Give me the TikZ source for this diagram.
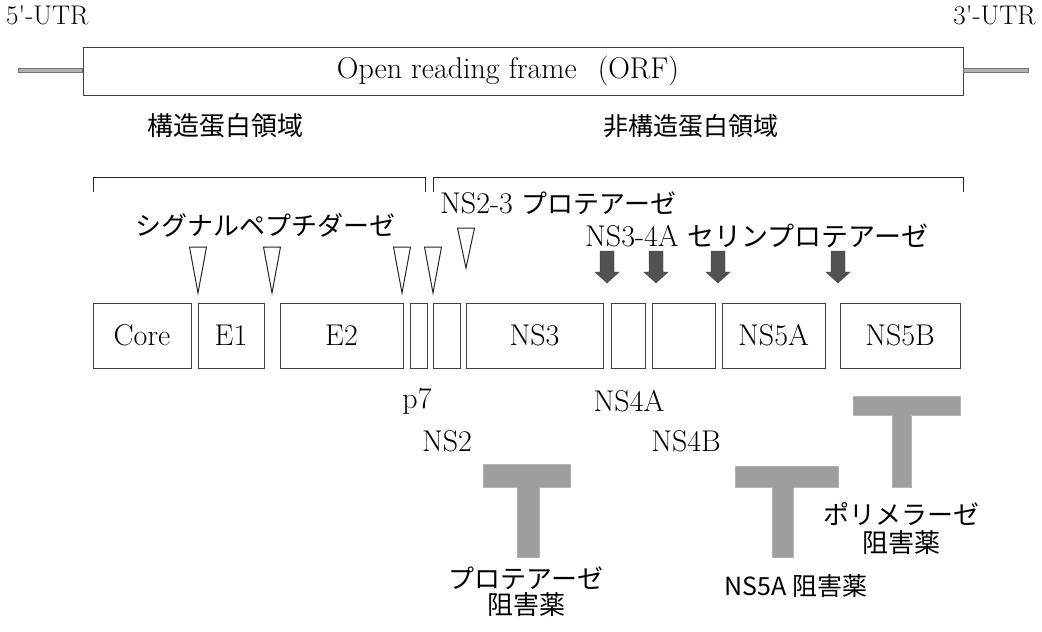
\documentclass[tikz,border=0pt]{standalone}
\usepackage{fontspec}
\newfontfamily\jp{Noto Sans CJK JP}
\newcommand{\fs}[1]{\fontsize{#1}{#1}\selectfont}
\begin{document}
\begin{tikzpicture}[x=1pt,y=-1pt,
  seg/.style={draw=black!75,line width=0.9pt,minimum height=65pt,inner sep=0pt,font=\fs{30}},
  lbl/.style={inner sep=0pt,font=\fs{30}},
  jlbl/.style={inner sep=0pt,font=\jp\fs{25}},
  brk/.style={draw=black!85,line width=1pt},
  tri/.style={draw=black!85,line width=1pt,fill=white,line join=miter},
  cut/.style={fill=black!68,draw=black!75,line width=0.4pt},
  tee/.style={fill=black!38,draw=black!30,line width=0.4pt},
  utr/.style={fill=black!30,draw=black!55,line width=0.5pt}]
\useasboundingbox (0,0) rectangle (1042,632);
% UTR and ORF
\node[lbl,font=\fs{27},anchor=west] (u5) at (6,15) {5\textquotesingle-UTR};
\node[lbl,font=\fs{27},anchor=east] (u3) at (1036,15) {3\textquotesingle-UTR};
\node[draw=black!75,line width=0.9pt,minimum width=880pt,minimum height=48pt,inner sep=0pt] (orf) at (523,71) {};
\node[lbl,font=\fs{30}] (orft) at (508,71) {Open reading frame\hspace{0.7em}(ORF)};
\fill[utr] (18,68.5) rectangle (orf.west |- 0,72.5);
\fill[utr] (orf.east |- 0,68.5) rectangle (1028,72.5);
% region labels
\node[jlbl,font=\jp\fs{26}] (sreg) at (225,126) {構造蛋白領域};
\node[jlbl] (nreg) at (691,126) {非構造蛋白領域};
\draw[brk] (93,192) -- (93,177) -- (425,177) -- (425,192);
\draw[brk] (433,192) -- (433,177) -- (963,177) -- (963,192);
% enzyme labels
\node[jlbl,font=\jp\fs{26}] (sig) at (265,225) {シグナルペプチダーゼ};
\node[lbl,anchor=west] (ns23) at (440,203) {NS2-3 {\jp\fs{26}プロテアーゼ}};
\node[lbl,anchor=west] (ns34) at (585,236) {NS3-4A {\jp\fs{27}セリンプロテアーゼ}};
% segments
\node[seg,minimum width=98pt] (core) at (142,335.5) {Core};
\node[seg,minimum width=66pt] (e1) at (231,335.5) {E1};
\node[seg,minimum width=123pt] (e2) at (341.5,335.5) {E2};
\node[seg,minimum width=17pt] (p7) at (418.5,335.5) {};
\node[seg,minimum width=27pt] (ns2) at (446.5,335.5) {};
\node[seg,minimum width=137pt] (ns3) at (534.5,335.5) {NS3};
\node[seg,minimum width=34pt] (ns4a) at (628,335.5) {};
\node[seg,minimum width=63pt] (ns4b) at (683.5,335.5) {};
\node[seg,minimum width=103pt] (ns5a) at (773.5,335.5) {NS5A};
\node[seg,minimum width=120pt] (ns5b) at (900,335.5) {NS5B};
% signal peptidase cleavage (open triangles)
\foreach \x in {198,272,402,433}
  \draw[tri] (\x-8.5,247) -- (\x+8.5,247) -- (\x,293) -- cycle;
\draw[tri] (466-8.5,228) -- (466+8.5,228) -- (466,268) -- cycle;
% NS3-4A serine protease cleavage (filled arrows)
\foreach \x in {607,656,718,838}
  \draw[cut] (\x-7,251) -- (\x+7,251) -- (\x+7,272) -- (\x+12,272) -- (\x,283)
     -- (\x-12,272) -- (\x-7,272) -- cycle;
% lower labels
\node[lbl] (lp7) at (417,401) {p7};
\node[lbl] (lns4a) at (629,401) {NS4A};
\node[lbl] (lns2) at (447,441) {NS2};
\node[lbl] (lns4b) at (686,441) {NS4B};
% inhibitors
\draw[tee] (483,464) -- (570,464) -- (570,487) -- (539,487) -- (539,557) -- (517,557)
   -- (517,487) -- (483,487) -- cycle;
\node[jlbl,font=\jp\fs{26}] (pi1) at (526,578) {プロテアーゼ};
\node[jlbl,font=\jp\fs{26}] (pi2) at (526,605) {阻害薬};
\draw[tee] (735,466) -- (838,466) -- (838,487) -- (793,487) -- (793,557) -- (772,557)
   -- (772,487) -- (735,487) -- cycle;
\node[jlbl] (ai) at (796,586) {NS5A 阻害薬};
\draw[tee] (853,396) -- (960,396) -- (960,415) -- (911,415) -- (911,487) -- (892,487)
   -- (892,415) -- (853,415) -- cycle;
\node[jlbl,font=\jp\fs{26}] (po1) at (901,514) {ポリメラーゼ};
\node[jlbl,font=\jp\fs{26}] (po2) at (901,543) {阻害薬};
\end{tikzpicture}
\end{document}
